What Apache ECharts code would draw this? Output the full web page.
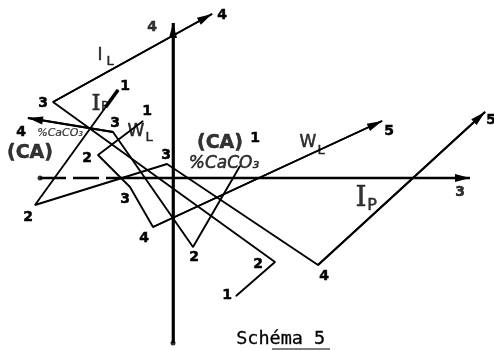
<!DOCTYPE html>
<html>
<head>
<meta charset="utf-8">
<script src="https://cdn.jsdelivr.net/npm/echarts@6/dist/echarts.min.js"></script>
<style>
  html, body { margin: 0; padding: 0; background: #fff; }
  #chart { width: 494px; height: 351px; }
</style>
</head>
<body>
<div id="chart"></div>
<script>
// Factor plane: axis 3 horizontal, axis 4 vertical. Each trajectory runs through stages 1..n.
const stagesIL    = [[0.63, -1.18], [1.02, -0.84], [-1.20, 0.76], [0.39, 1.64]];
const stagesIP    = [[-0.55, 0.88], [-1.38, -0.27], [-0.06, 0.14], [1.45, -0.87], [3.12, 0.66]];
const stagesWL    = [[-0.30, 0.57], [-0.75, 0.23], [-0.43, -0.09], [-0.20, -0.49], [2.09, 0.57]];
const stagesCaCO3 = [[0.67, 0.12], [0.20, -0.69], [-0.60, 0.46], [-1.45, 0.60]];
const stageNames  = ['1', '2', '3', '4', '5'];

// Drawn extent of the two factor axes
const axis3Extent = [-1.33, 2.97];
const axis4Extent = [-1.65, 1.55];
const axis3DashEnd = -0.55;

// Stage-number label offsets (px) for each trajectory
const offsIL    = [[-9, -1], [-17, 2], [-10, 1], [10, 1]];
const offsIP    = [[7, -4], [-7, 12], [-1, -9], [6, 11], [6, 8]];
const offsWL    = [[4, -10], [-11, 3], [-5, 12], [-9, 11], [7, 10]];
const offsCaCO3 = [[15, -28], [1, 10], [2, -9], [-7, 14]];

// Variable names written beside the trajectories, plus the axis numbers
const noteTexts = ['I', 'L', 'I', 'P', 'W', 'L', 'W', 'L', 'I', 'P', '(CA)', '%CaCO\u2083', '(CA)', '%CaCO\u2083', '4', '3'];
const notePlaces = [[-0.73, 1.22], [-0.63, 1.16], [-0.77, 0.74], [-0.68, 0.71], [-0.37, 0.46], [-0.24, 0.40],
                    [1.35, 0.35], [1.48, 0.27], [1.88, -0.21], [1.99, -0.28], [-1.43, 0.25], [-1.13, 0.45],
                    [0.47, 0.35], [0.51, 0.14], [-0.21, 1.51], [2.87, -0.14]];
const noteKinds = ['letter', 'sub', 'serifI', 'sub', 'letter', 'sub', 'letter', 'sub', 'bigI', 'bigSub',
                   'ca', 'smallCaCO3', 'ca', 'caco3', 'num', 'num'];

const INK = '#000';
const heavy = { color: INK, textBorderColor: INK, textBorderWidth: 0.5 };
const numFont = Object.assign({ fontFamily: 'DejaVu Sans', fontWeight: 'bold', fontSize: 14 }, heavy);
const noteStyles = {
  letter:     Object.assign({ fontFamily: 'DejaVu Sans', fontSize: 17 }, heavy),
  sub:        Object.assign({ fontFamily: 'DejaVu Sans', fontSize: 13 }, heavy),
  serifI:     Object.assign({ fontFamily: 'DejaVu Serif', fontSize: 23 }, heavy),
  bigI:       Object.assign({ fontFamily: 'DejaVu Serif', fontSize: 28 }, heavy),
  bigSub:     Object.assign({ fontFamily: 'DejaVu Sans', fontSize: 16 }, heavy),
  ca:         Object.assign({ fontFamily: 'DejaVu Sans', fontWeight: 'bold', fontSize: 19 }, heavy),
  smallCaCO3: Object.assign({ fontFamily: 'DejaVu Sans', fontStyle: 'italic', fontSize: 11 }, heavy, { textBorderWidth: 0.2 }),
  caco3:      Object.assign({ fontFamily: 'DejaVu Sans', fontStyle: 'italic', fontSize: 17 }, heavy),
  num:        numFont
};

const ARROW = [8, 15];

function arrowLine(a, b, width) {
  return {
    silent: true,
    symbol: ['none', 'triangle'],
    symbolSize: ARROW,
    symbolOffset: [0, [0, ARROW[1] / 2]],
    label: { show: false },
    emphasis: { disabled: true },
    lineStyle: { color: INK, width: width, type: 'solid' },
    data: [[{ coord: a }, { coord: b }]]
  };
}

function trajectory(name, pts, offs) {
  const n = pts.length;
  return {
    type: 'line',
    name: name,
    data: pts.map((p, i) => ({ value: p, label: { offset: offs[i] } })),
    symbol: 'circle',
    symbolSize: 1,
    showAllSymbol: true,
    itemStyle: { color: INK },
    lineStyle: { color: INK, width: 1.9 },
    label: Object.assign({
      show: true,
      position: 'inside',
      formatter: (p) => stageNames[p.dataIndex]
    }, numFont),
    emphasis: { disabled: true },
    markLine: arrowLine(pts[n - 2], pts[n - 1], 1.9),
    z: 3
  };
}

// Thicker stroke entering stage 1 of I_P
const ipHead = stagesIP[0];
const ipNext = stagesIP[1];
const ipThickFrom = [ipHead[0] + (ipNext[0] - ipHead[0]) * 0.15, ipHead[1] + (ipNext[1] - ipHead[1]) * 0.15];

const chart = echarts.init(document.getElementById('chart'), null, { renderer: 'canvas' });
chart.setOption({
  animation: false,
  backgroundColor: '#fff',
  grid: { left: 0, right: 0, top: 0, bottom: 0 },
  xAxis: { type: 'value', min: -1.73, max: 3.21, show: false },
  yAxis: { type: 'value', min: -1.73, max: 1.78, show: false },
  series: [
    // factor axis 3 (dashed on the far negative side)
    {
      type: 'line',
      data: [[axis3Extent[0], 0], [axis3DashEnd, 0]],
      symbol: 'none',
      lineStyle: { color: INK, width: 2.4, type: [26, 7] },
      emphasis: { disabled: true },
      markLine: arrowLine([axis3DashEnd, 0], [axis3Extent[1], 0], 2.4),
      z: 2
    },
    // factor axis 4
    {
      type: 'line',
      data: [[0, axis4Extent[0]], [0, axis4Extent[1]]],
      symbol: 'none',
      lineStyle: { color: INK, width: 2.6 },
      emphasis: { disabled: true },
      markLine: arrowLine([0, axis4Extent[0]], [0, axis4Extent[1]], 2.6),
      z: 2
    },
    // dots at the start of each axis
    {
      type: 'scatter',
      data: [[axis3Extent[0], 0], [0, axis4Extent[0]]],
      symbol: 'circle',
      symbolSize: 5,
      itemStyle: { color: INK },
      emphasis: { disabled: true },
      z: 2
    },
    trajectory('IL', stagesIL, offsIL),
    trajectory('IP', stagesIP, offsIP),
    trajectory('WL', stagesWL, offsWL),
    trajectory('CaCO3', stagesCaCO3, offsCaCO3),
    {
      type: 'line',
      data: [ipThickFrom, ipHead],
      symbol: 'none',
      lineStyle: { color: INK, width: 3.6 },
      emphasis: { disabled: true },
      z: 3
    },
    // variable names
    {
      type: 'scatter',
      data: notePlaces.map((p, i) => ({
        value: p,
        label: Object.assign({ show: true, position: 'inside', formatter: noteTexts[i] }, noteStyles[noteKinds[i]])
      })),
      symbolSize: 0,
      emphasis: { disabled: true },
      z: 4
    }
  ],
  graphic: [
    {
      type: 'text',
      left: 236,
      top: 330,
      style: { text: 'Sch\u00e9ma 5', font: '18.5px "DejaVu Sans Mono"', fill: INK, stroke: INK, lineWidth: 0.3 }
    },
    {
      type: 'line',
      shape: { x1: 272, y1: 349, x2: 330, y2: 349 },
      style: { stroke: INK, lineWidth: 1.2 }
    }
  ]
});
</script>
</body>
</html>
